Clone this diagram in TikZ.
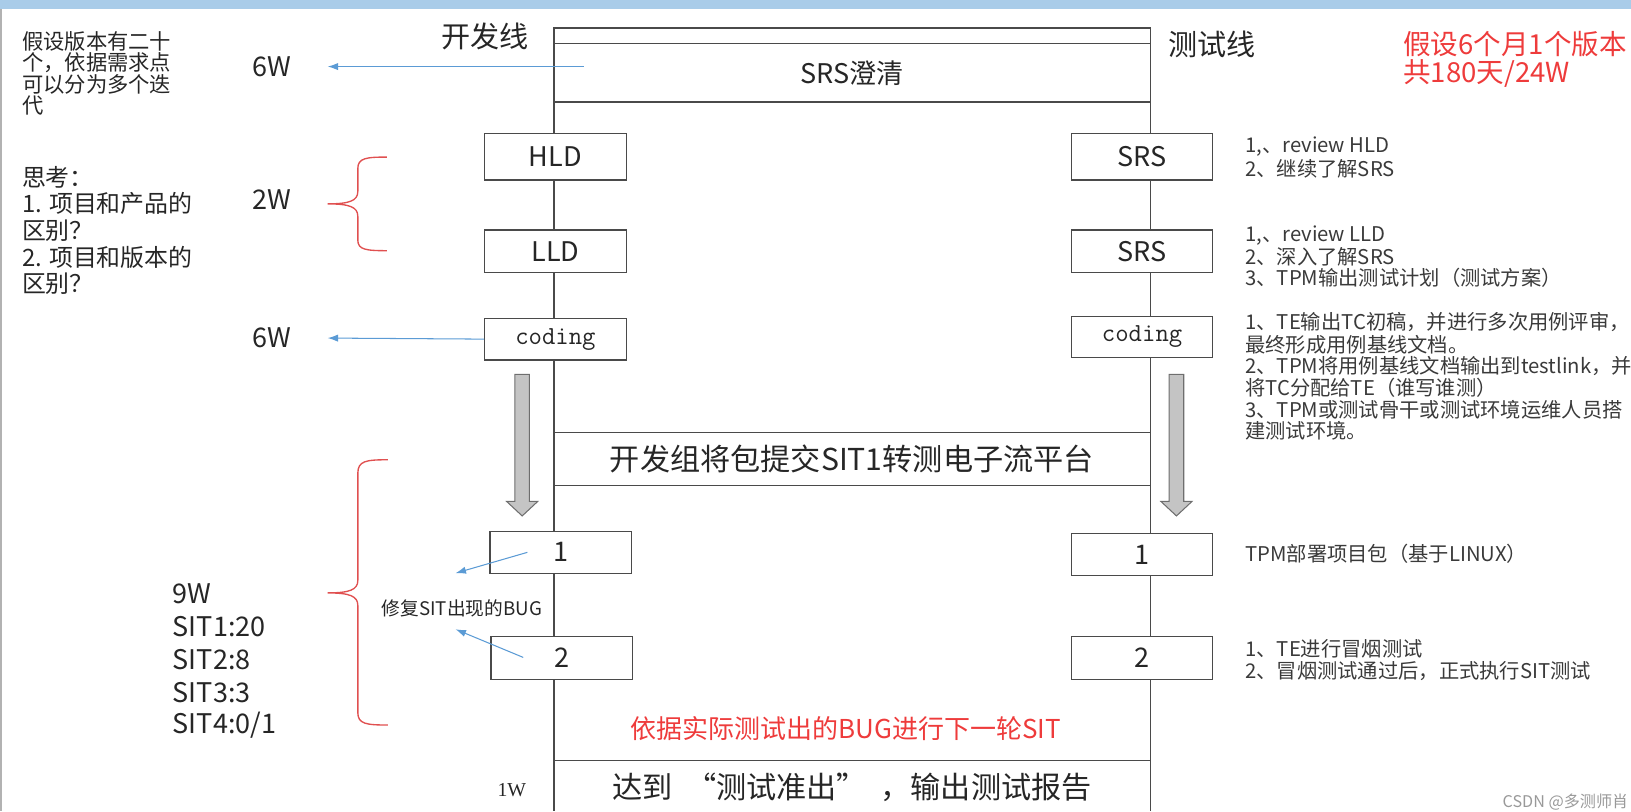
\documentclass[tikz,border=0pt]{standalone}
\usepackage{fontspec}
\setmainfont{Noto Sans CJK SC}
\newfontfamily\lserif{Liberation Serif}
\usetikzlibrary{arrows.meta}
\definecolor{boxline}{HTML}{4A4A4A}
\definecolor{bluearr}{HTML}{5B9BD5}
\definecolor{redtxt}{HTML}{EE3B3B}
\definecolor{bracered}{HTML}{E05050}
\definecolor{notegray}{HTML}{3A3A3A}
\definecolor{band}{HTML}{A9CCE9}
\definecolor{blockfill}{HTML}{C4C4C4}
\definecolor{txt}{HTML}{262626}
\begin{document}
\begin{tikzpicture}[x=1pt,y=-1pt,
  stagebox/.style={draw=boxline,line width=1.2pt,fill=white,minimum width=136pt,minimum height=41pt,inner sep=0pt,text=txt,font=\fontsize{26}{26}\selectfont},
  codebox/.style={stagebox,font=\ttfamily\fontsize{25}{25}\selectfont},
  frame/.style={draw=boxline,line width=1.2pt},
  note/.style={anchor=west,inner sep=0pt,text=notegray,font=\fontsize{19.5}{19.5}\selectfont},
  lefttxt/.style={anchor=west,inner sep=0pt,text=txt,font=\fontsize{20.5}{20.5}\selectfont},
  thinktxt/.style={anchor=west,inner sep=0pt,text=txt,font=\fontsize{23}{23}\selectfont},
  weektxt/.style={inner sep=0pt,text=txt,font=\fontsize{26}{26}\selectfont},
  sittxt/.style={anchor=west,inner sep=0pt,text=txt,font=\fontsize{26}{26}\selectfont},
  bluearrow/.style={draw=bluearr,line width=1pt,-{Latex[length=10pt,width=7pt]}},
  redbrace/.style={draw=bracered,line width=1.3pt},
  blockarrow/.style={fill=blockfill,draw=boxline!80,line width=1pt},
  redline/.style={anchor=west,inner sep=0pt,text=redtxt,font=\fontsize{26.5}{26.5}\selectfont}]
\useasboundingbox (0,0) rectangle (1568,780);
% top band and left border
\fill[band] (0,0) rectangle (1568,9);
\draw[gray!60,line width=1.5pt] (0.75,9) -- (0.75,780);
% main vertical lines
\coordinate (Ltop) at (532.5,27);
\coordinate (Lbot) at (532.5,780);
\coordinate (Rtop) at (1106,27);
\coordinate (Rbot) at (1106,780);
\draw[frame] (Ltop) -- (Lbot);
\draw[frame] (Rtop) -- (Rbot);
% header
\draw[frame] (532.5,27) rectangle (1106,98);
\draw[frame] (532.5,42) -- (1106,42);
\node[inner sep=0pt,text=txt,font=\fontsize{26}{26}\selectfont] (srs0) at (819,70) {SRS澄清};
% middle band
\draw[frame] (532.5,416) -- (1106,416);
\draw[frame] (532.5,467) -- (1106,467);
\node[inner sep=0pt,text=txt,font=\fontsize{29}{29}\selectfont] (submit) at (819,441) {开发组将包提交SIT1转测电子流平台};
% bottom band
\draw[frame] (532.5,731) -- (1106,731);
\node[inner sep=0pt,text=txt,font=\fontsize{29}{29}\selectfont] (report) at (819,757) {达到\ \ “测试准出”\ \ ，输出测试报告};
\node[inner sep=0pt,text=redtxt,font=\fontsize{25}{25}\selectfont] (nextsit) at (813,700) {依据实际测试出的BUG进行下一轮SIT};
% line titles
\node[inner sep=0pt,text=txt,font=\fontsize{28}{28}\selectfont] (devline) at (466,35) {开发线};
\node[inner sep=0pt,text=txt,font=\fontsize{28}{28}\selectfont] (testline) at (1165,43) {测试线};
% boxes left
\node[stagebox,minimum height=45pt] (hld) at (534,150.5) {HLD};
\node[stagebox] (lld) at (534,241.5) {LLD};
\node[codebox,minimum height=40pt] (cod) at (534,326) {coding};
\node[stagebox,minimum height=40pt] (d1) at (539,531) {1};
\node[stagebox] (d2) at (540,632.5) {2};
% boxes right
\node[stagebox,minimum height=45pt] (srs1) at (1098,150.5) {SRS};
\node[stagebox] (srs2) at (1098,241.5) {SRS};
\node[codebox,minimum height=40pt] (tcod) at (1098,324) {coding};
\node[stagebox,minimum height=40pt] (t1) at (1098,533) {1};
\node[stagebox] (t2) at (1098,632.5) {2};
% gray block arrows
\draw[blockarrow] (495,360) -- (509,360) -- (509,482) -- (517,482) -- (502,496) -- (487,482) -- (495,482) -- cycle;
\draw[blockarrow] (1124,360) -- (1138,360) -- (1138,482) -- (1146,482) -- (1131,496) -- (1116,482) -- (1124,482) -- cycle;
% left texts
\node[lefttxt] (p1) at (21,40) {假设版本有二十};
\node[lefttxt] (p2) at (21,60.5) {个，依据需求点};
\node[lefttxt] (p3) at (21,81) {可以分为多个迭};
\node[lefttxt] (p4) at (21,101.5) {代};
\node[thinktxt] (q1) at (21,170) {思考：};
\node[thinktxt] (q2) at (21,195.5) {1. 项目和产品的};
\node[thinktxt] (q3) at (21,221.5) {区别？};
\node[thinktxt] (q4) at (21,247) {2. 项目和版本的};
\node[thinktxt] (q5) at (21,273) {区别？};
% week labels
\node[weektxt] (w6a) at (261,64) {6W};
\node[weektxt] (w2) at (261,192) {2W};
\node[weektxt] (w6b) at (261,325) {6W};
\node[sittxt] (s0) at (166,571) {9W};
\node[sittxt] (s1) at (166,602.5) {SIT1:20};
\node[sittxt] (s2) at (166,634) {SIT2:8};
\node[sittxt] (s3) at (166,665.5) {SIT3:3};
\node[sittxt] (s4) at (166,697) {SIT4:0/1};
\node[inner sep=0pt,text=txt,font=\lserif\fontsize{19}{19}\selectfont] (w1) at (492,760) {1W};
% blue arrows
\coordinate (tail6a) at (561,64);
\coordinate (tip6a) at (315,64);
\coordinate (tip6b) at (315,325);
\coordinate (tail1) at (507,531);
\coordinate (tip1) at (438,551);
\coordinate (tail2) at (503,632);
\coordinate (tip2) at (438,605);
\draw[bluearrow] (tail6a) -- (tip6a);
\draw[bluearrow] (cod.west) -- (tip6b);
\draw[bluearrow] (tail1) -- (tip1);
\draw[bluearrow] (tail2) -- (tip2);
\node[inner sep=0pt,text=txt,font=\fontsize{18}{18}\selectfont] (fix) at (444,585) {修复SIT出现的BUG};
% red braces
\draw[redbrace] (372,151) .. controls (352,151) and (344,152) .. (344,162) -- (344,184) .. controls (344,193) and (336,196) .. (315,196) .. controls (336,196) and (344,199) .. (344,208) -- (344,231) .. controls (344,240) and (352,241) .. (372,241);
\draw[redbrace] (373,442) .. controls (352,442) and (344,443) .. (344,455) -- (344,558) .. controls (344,567) and (336,570) .. (315,570) .. controls (336,570) and (344,573) .. (344,582) -- (344,685) .. controls (344,696) and (352,697) .. (373,697);
% red top right
\node[redline] (r1) at (1349,42) {假设6个月1个版本};
\node[redline] (r2) at (1349,71) {共180天/24W};
% right notes
\node[note] (n11) at (1197,141) {1,、review HLD};
\node[note] (n12) at (1197,162) {2、继续了解SRS};
\node[note] (n21) at (1197,226) {1,、review LLD};
\node[note] (n22) at (1197,247) {2、深入了解SRS};
\node[note] (n23) at (1197,267.5) {3、TPM输出测试计划（测试方案）};
\node[note] (n31) at (1197,310) {1、TE输出TC初稿，并进行多次用例评审，};
\node[note] (n32) at (1197,331) {最终形成用例基线文档。};
\node[note] (n33) at (1197,352) {2、TPM将用例基线文档输出到testlink，并};
\node[note] (n34) at (1197,373) {将TC分配给TE（谁写谁测）};
\node[note] (n35) at (1197,394) {3、TPM或测试骨干或测试环境运维人员搭};
\node[note] (n36) at (1197,414) {建测试环境。};
\node[note] (n41) at (1197,532) {TPM部署项目包（基于LINUX）};
\node[note] (n51) at (1197,624) {1、TE进行冒烟测试};
\node[note] (n52) at (1197,645) {2、冒烟测试通过后，正式执行SIT测试};
% watermark
\node[inner sep=0pt,text=gray!80,font=\fontsize{15.5}{15.5}\selectfont] (csdn) at (1505,771) {CSDN @多测师肖};
\end{tikzpicture}
\end{document}
